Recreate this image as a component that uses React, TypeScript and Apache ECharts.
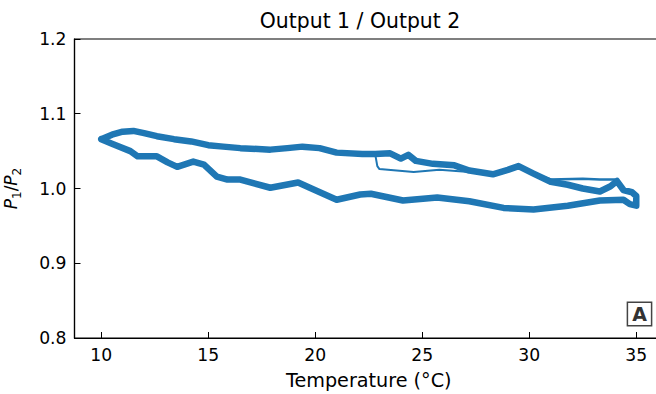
import React, { useEffect, useRef } from "react";
import * as echarts from "echarts";

// Main hysteresis loop: heating branch (upper) then cooling branch (lower)
const upperTemp = [10.0, 10.5, 11.0, 11.5, 12.0, 12.6, 13.4, 14.2, 15.0, 15.7, 16.5, 17.9, 18.7, 19.4, 20.2, 21.0, 22.2, 22.8, 23.5, 24.0, 24.35, 24.7, 25.5, 26.5, 27.2, 28.3, 29.0, 29.5, 30.2, 31.0, 31.8, 32.5, 33.3, 33.8, 34.1, 34.4, 34.8, 35.0, 35.0];
const upperRatio = [1.066, 1.072, 1.076, 1.077, 1.074, 1.070, 1.066, 1.063, 1.058, 1.056, 1.054, 1.052, 1.054, 1.056, 1.054, 1.048, 1.046, 1.046, 1.047, 1.040, 1.045, 1.037, 1.033, 1.031, 1.024, 1.019, 1.025, 1.030, 1.020, 1.009, 1.005, 1.000, 0.996, 1.003, 1.010, 0.998, 0.995, 0.990, 0.977];
const lowerTemp = [34.7, 34.4, 33.3, 31.8, 30.2, 28.8, 27.2, 25.7, 24.1, 22.6, 22.1, 21.0, 19.9, 19.2, 17.9, 16.5, 15.9, 15.4, 14.8, 14.3, 13.55, 13.1, 12.6, 11.7, 11.36, 10.5, 10.0];
const lowerRatio = [0.979, 0.985, 0.984, 0.977, 0.972, 0.974, 0.983, 0.988, 0.984, 0.993, 0.992, 0.985, 0.999, 1.008, 1.001, 1.012, 1.012, 1.016, 1.032, 1.036, 1.029, 1.035, 1.043, 1.043, 1.050, 1.060, 1.066];

// Stray cycles that departed from the main band
const strayMidTemp = [22.8, 22.9, 23.0, 24.6, 25.8, 27.2];
const strayMidRatio = [1.046, 1.030, 1.026, 1.022, 1.025, 1.022];
const strayEndTemp = [30.2, 31.0, 32.5, 33.3, 34.0, 34.4, 35.0, 35.0];
const strayEndRatio = [1.020, 1.012, 1.013, 1.012, 1.012, 0.998, 0.992, 0.980];

const xTicks = [10, 15, 20, 25, 30, 35];

const BLUE = "#1f77b4";
const FONT = "DejaVu Sans";

export default function App() {
  const ref = useRef<HTMLDivElement>(null);
  useEffect(() => {
    document.body.style.margin = "0";
    const chart = echarts.init(ref.current!, null, { renderer: "svg" });
    const loop = [
      ...upperTemp.map((t, i) => [t, upperRatio[i]]),
      ...lowerTemp.map((t, i) => [t, lowerRatio[i]]),
    ];
    const strayMid = strayMidTemp.map((t, i) => [t, strayMidRatio[i]]);
    const strayEnd = strayEndTemp.map((t, i) => [t, strayEndRatio[i]]);
    chart.setOption({
      animation: false,
      backgroundColor: "#fff",
      title: {
        text: "Output 1 / Output 2",
        left: 355,
        textAlign: "center",
        top: 6,
        textStyle: { fontFamily: FONT, fontSize: 20.4, fontWeight: "normal", color: "#000" },
      },
      grid: {
        left: 74.5,
        top: 39,
        width: 588.5,
        height: 299,
        containLabel: false,
        outerBoundsMode: "none",
        show: true,
        borderColor: "#000",
        borderWidth: 1.2,
        backgroundColor: "transparent",
      },
      xAxis: {
        type: "value",
        min: 8.75,
        max: 36.25,
        name: "Temperature (°C)",
        nameLocation: "middle",
        nameGap: 33,
        nameTextStyle: { fontFamily: FONT, fontSize: 19.2, color: "#000" },
        axisLine: { lineStyle: { color: "#000", width: 1.2 } },
        axisTick: { inside: true, length: 6, customValues: xTicks, lineStyle: { color: "#000", width: 1 } },
        axisLabel: { customValues: xTicks, fontFamily: FONT, fontSize: 17.2, color: "#000", margin: 8 },
        splitLine: { show: false },
      },
      yAxis: {
        type: "value",
        min: 0.8,
        max: 1.2,
        interval: 0.1,
        name: "{i|P}{s|1}{n|/}{i|P}{s|2}",
        nameLocation: "middle",
        nameGap: 52,
        nameTextStyle: {
          rich: {
            i: { fontFamily: FONT, fontSize: 17, fontStyle: "italic", color: "#000", lineHeight: 24, verticalAlign: "middle" },
            n: { fontFamily: FONT, fontSize: 17, color: "#000", lineHeight: 24, verticalAlign: "middle" },
            s: { fontFamily: FONT, fontSize: 12, color: "#000", lineHeight: 12, verticalAlign: "bottom" },
          },
        },
        axisLine: { lineStyle: { color: "#000", width: 1.2 } },
        axisTick: { inside: true, length: 6, lineStyle: { color: "#000", width: 1 } },
        axisLabel: {
          fontFamily: FONT,
          fontSize: 17.2,
          color: "#000",
          margin: 8,
          formatter: (v: number) => v.toFixed(1),
        },
        splitLine: { show: false },
      },
      series: [
        {
          type: "line",
          data: loop,
          showSymbol: false,
          lineStyle: { color: BLUE, width: 6.5, cap: "round", join: "round" },
        },
        {
          type: "line",
          data: strayMid,
          showSymbol: false,
          lineStyle: { color: BLUE, width: 2, cap: "round", join: "round" },
        },
        {
          type: "line",
          data: strayEnd,
          showSymbol: false,
          lineStyle: { color: BLUE, width: 2.5, cap: "round", join: "round" },
        },
      ],
      graphic: [
        {
          type: "text",
          x: 639.5,
          y: 314,
          style: {
            text: "A",
            fontFamily: FONT,
            fontSize: 19,
            fontWeight: "bold",
            fill: "#333",
            align: "center",
            verticalAlign: "middle",
            padding: [2, 4, 1, 4],
            borderColor: "#444",
            borderWidth: 1.5,
            backgroundColor: "#fff",
          },
        },
      ],
    });
    return () => chart.dispose();
  }, []);
  return <div ref={ref} style={{ width: 656, height: 394 }} />;
}
